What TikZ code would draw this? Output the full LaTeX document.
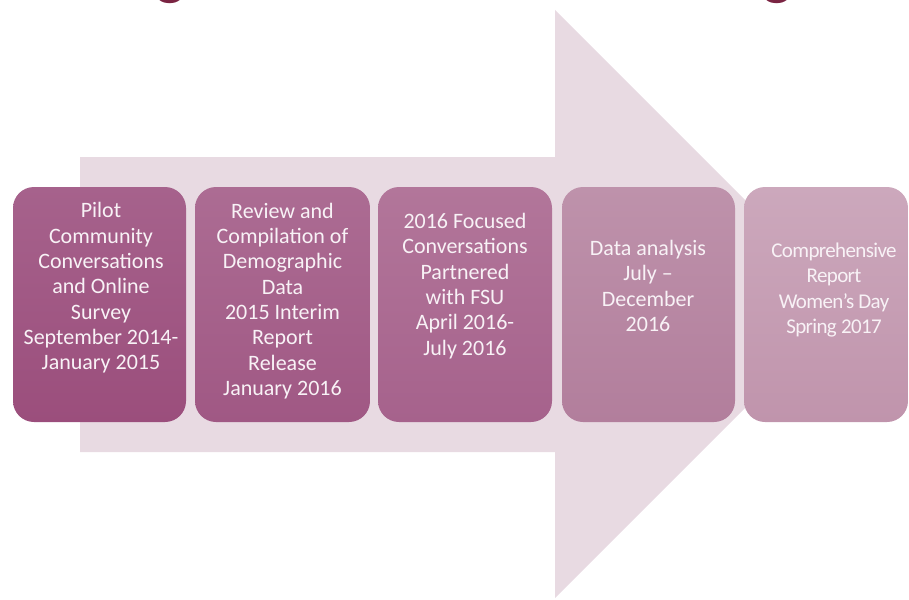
\documentclass[tikz,border=0pt]{standalone}
\usepackage{fontspec}
\setmainfont{Carlito}
\definecolor{arrowpink}{RGB}{232,218,226}
\definecolor{titlered}{RGB}{122,36,66}
\definecolor{txtwhite}{RGB}{248,242,246}
\definecolor{b1top}{RGB}{166,98,140}
\definecolor{b1bot}{RGB}{155,78,124}
\definecolor{b2top}{RGB}{172,108,147}
\definecolor{b2bot}{RGB}{160,88,132}
\definecolor{b3top}{RGB}{178,118,154}
\definecolor{b3bot}{RGB}{166,98,140}
\definecolor{b4top}{RGB}{190,146,171}
\definecolor{b4bot}{RGB}{178,126,156}
\definecolor{b5top}{RGB}{204,168,188}
\definecolor{b5bot}{RGB}{192,148,172}
\tikzset{
  stepbox/.style={rounded corners=21pt, inner sep=0pt, minimum height=235pt},
  steptext/.style={text=txtwhite, align=center, font=\fontsize{22}{25.3}\selectfont, inner sep=0pt},
  titleg/.style={text=titlered, font=\fontsize{60}{60}\selectfont\bfseries, anchor=base, inner sep=0pt}
}
\begin{document}
\begin{tikzpicture}[x=1pt,y=-1pt]
\useasboundingbox (0,0) rectangle (909,599);
\begin{scope}
\clip (0,0) rectangle (909,599);
% partial title glyphs
\node[titleg] (g1) at (171,-6) {g};
\node[titleg] (g2) at (778,-6) {g};
% big arrow
\fill[arrowpink] (80,157) -- (555,157) -- (555,10) -- (849,304) -- (555,598) -- (555,452) -- (80,452) -- cycle;
% boxes
\node[stepbox, minimum width=173pt, top color=b1top, bottom color=b1bot] (b1) at (99.5,304.5) {};
\node[stepbox, minimum width=175pt, top color=b2top, bottom color=b2bot] (b2) at (282.5,304.5) {};
\node[stepbox, minimum width=174pt, top color=b3top, bottom color=b3bot] (b3) at (465,304.5) {};
\node[stepbox, minimum width=173pt, top color=b4top, bottom color=b4bot] (b4) at (648.5,304.5) {};
\node[stepbox, minimum width=164pt, top color=b5top, bottom color=b5bot] (b5) at (826,304.5) {};
% texts
\node[steptext] (t1) at (101,288) {Pilot\\Community\\Conversations\\and Online\\Survey\\September 2014-\\January 2015};
\node[steptext] (t2) at (282.5,301) {Review and\\Compilation of\\Demographic\\Data\\2015 Interim\\Report\\Release\\January 2016};
\node[steptext] (t3) at (465,286) {2016 Focused\\Conversations\\Partnered\\with FSU\\April 2016-\\July 2016};
\node[steptext] (t4) at (648,286) {Data analysis\\July –\\December\\2016};
\node[steptext, font=\fontsize{21}{25.3}\selectfont\addfontfeatures{LetterSpace=-3}] (t5) at (834,290) {Comprehensive\\Report\\Women’s Day\\Spring 2017};
\end{scope}
\end{tikzpicture}
\end{document}
